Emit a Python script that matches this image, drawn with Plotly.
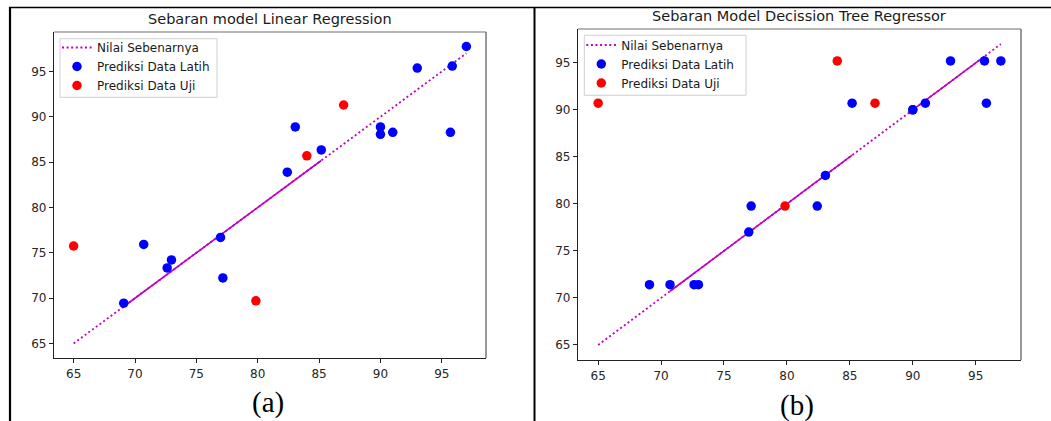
import plotly.graph_objects as go

# ---------------- data ----------------
ticks = [65, 70, 75, 80, 85, 90, 95]

train_actual = [97.0, 95.85, 95.7, 93.0, 83.06, 90.0, 90.0, 91.0,
                85.18, 82.41, 76.97, 70.71, 72.97, 72.62, 77.16, 69.08]
lr_train_pred = [97.75, 95.59, 88.29, 95.37, 88.88, 88.88, 88.07, 88.29,
                 86.35, 83.89, 76.70, 75.93, 74.21, 73.33, 72.23, 69.44]
dt_train_pred = [95.2, 90.71, 95.2, 95.2, 83.03, 90.0, 90.0, 90.71,
                 90.71, 79.77, 77.0, 71.41, 71.41, 71.41, 79.77, 71.41]

test_actual = [87.0, 84.0, 65.0, 79.85]
lr_test_pred = [91.30, 85.69, 75.75, 69.70]
dt_test_pred = [90.71, 95.2, 90.71, 79.77]

titles = ["Sebaran model Linear Regression", "Sebaran Model Decission Tree Regressor"]
captions = ["(a)", "(b)"]
legend_names = ["Nilai Sebenarnya", "Prediksi Data Latih", "Prediksi Data Uji"]

# ranges of the ideal line where overlapping dotted segments look solid
solid_ranges = [[(69.08, 85.18)], [(70.71, 85.18), (90.0, 95.7)]]

# ---------------- figure ----------------
W, H = 1051, 421
MAG = "#bf00bf"
FONT = "DejaVu Sans"
all_actual = sorted(train_actual + test_actual)

fig = go.Figure()

panels = [
    dict(xa="x", ya="y", leg="legend", lr=(lr_train_pred, lr_test_pred)),
    dict(xa="x2", ya="y2", leg="legend2", lr=(dt_train_pred, dt_test_pred)),
]

for i, p in enumerate(panels):
    tr_pred, te_pred = p["lr"]
    fig.add_trace(go.Scatter(x=all_actual, y=all_actual, mode="lines",
                             name=legend_names[0], xaxis=p["xa"], yaxis=p["ya"],
                             legend=p["leg"],
                             line=dict(color=MAG, width=1.8, dash="2px,2.6px")))
    # overlay where the overlapping dotted segments appear solid
    sx, sy = [], []
    for lo, hi in solid_ranges[i]:
        seg = [v for v in all_actual if lo <= v <= hi]
        sx += seg + [None]
        sy += seg + [None]
    fig.add_trace(go.Scatter(x=sx, y=sy, mode="lines", showlegend=False,
                             xaxis=p["xa"], yaxis=p["ya"], hoverinfo="skip",
                             line=dict(color=MAG, width=1.6)))
    fig.add_trace(go.Scatter(x=train_actual, y=tr_pred, mode="markers",
                             name=legend_names[1], xaxis=p["xa"], yaxis=p["ya"],
                             legend=p["leg"],
                             marker=dict(color="#0000ff", size=9.5, line=dict(width=0))))
    fig.add_trace(go.Scatter(x=test_actual, y=te_pred, mode="markers",
                             name=legend_names[2], xaxis=p["xa"], yaxis=p["ya"],
                             legend=p["leg"],
                             marker=dict(color="#ff0000", size=9.5, line=dict(width=0))))

# axes geometry (pixels)
boxes = [dict(x0=54, x1=486, y0=32, y1=358, yr=[63.4, 99.35]),
         dict(x0=578, x1=1021, y0=29, y1=360, yr=[63.4, 98.6])]

axis_common = dict(
    showgrid=False, zeroline=False, ticks="outside", ticklen=4, tickwidth=1,
    tickcolor="#222", showline=True, linecolor="#222", linewidth=1.2,
    mirror=False, tickfont=dict(family=FONT, size=12, color="#262626"),
    tickvals=ticks, ticktext=[str(t) for t in ticks],
)

layout_axes = {}
for i, b in enumerate(boxes):
    sfx = "" if i == 0 else "2"
    layout_axes["xaxis" + sfx] = dict(
        domain=[b["x0"] / W, b["x1"] / W], range=[63.4, 98.6],
        anchor="y" + sfx, **axis_common)
    layout_axes["yaxis" + sfx] = dict(
        domain=[1 - b["y1"] / H, 1 - b["y0"] / H], range=b["yr"],
        anchor="x" + sfx, **axis_common)


def px_x(v):
    return v / W


def px_y(v):
    return 1 - v / H


shapes = []
for b in boxes:
    # top and right spines (lighter)
    shapes.append(dict(type="line", xref="paper", yref="paper",
                       x0=px_x(b["x0"]), x1=px_x(b["x1"]), y0=px_y(b["y0"]), y1=px_y(b["y0"]),
                       line=dict(color="#6e6e6e", width=1.2)))
    shapes.append(dict(type="line", xref="paper", yref="paper",
                       x0=px_x(b["x1"]), x1=px_x(b["x1"]), y0=px_y(b["y0"]), y1=px_y(b["y1"]),
                       line=dict(color="#555", width=1.2)))

# legend frames (matplotlib-like, semi transparent)
legend_boxes = [(60, 38.7, 217, 97.3), (584.3, 35.3, 746, 95.3)]
for (lx0, ly0, lx1, ly1) in legend_boxes:
    shapes.append(dict(type="rect", xref="paper", yref="paper", layer="above",
                       x0=px_x(lx0), x1=px_x(lx1), y0=px_y(ly0), y1=px_y(ly1),
                       fillcolor="rgba(255,255,255,0.8)",
                       line=dict(color="#d0d0d0", width=1)))

# outer table frame
shapes.append(dict(type="line", xref="paper", yref="paper",
                   x0=px_x(9), x1=1.0, y0=px_y(7.5), y1=px_y(7.5),
                   line=dict(color="#000", width=1.5)))
shapes.append(dict(type="line", xref="paper", yref="paper",
                   x0=px_x(10), x1=px_x(10), y0=px_y(7), y1=0,
                   line=dict(color="#000", width=2.2)))
shapes.append(dict(type="line", xref="paper", yref="paper",
                   x0=px_x(534.5), x1=px_x(534.5), y0=px_y(7), y1=0,
                   line=dict(color="#000", width=2)))

annotations = []
title_pos = [(270, 19), (799, 16)]
cap_pos = [(268, 402), (797, 405)]
for i in range(2):
    annotations.append(dict(text=titles[i], xref="paper", yref="paper",
                            x=px_x(title_pos[i][0]), y=px_y(title_pos[i][1]),
                            xanchor="center", yanchor="middle", showarrow=False,
                            font=dict(family=FONT, size=14.5, color="#1a1a1a")))
    annotations.append(dict(text=captions[i], xref="paper", yref="paper",
                            x=px_x(cap_pos[i][0]), y=px_y(cap_pos[i][1]),
                            xanchor="center", yanchor="middle", showarrow=False,
                            font=dict(family="Liberation Serif", size=29, color="#000")))

legend_style = dict(bgcolor="rgba(0,0,0,0)", borderwidth=0,
                    font=dict(family=FONT, size=12, color="#1a1a1a"),
                    xanchor="left", yanchor="top", tracegroupgap=0)

fig.update_layout(
    width=W, height=H, margin=dict(l=0, r=0, t=0, b=0),
    paper_bgcolor="white", plot_bgcolor="white", showlegend=True,
    legend=dict(x=px_x(57), y=px_y(33), **legend_style),
    legend2=dict(x=px_x(581.3), y=px_y(30.5), **legend_style),
    shapes=shapes, annotations=annotations,
    **layout_axes,
)

fig.write_html("out.html",
               config={"displayModeBar": False},
               post_script="document.body.style.margin='0px';"
                           "document.body.style.overflow='hidden';")
